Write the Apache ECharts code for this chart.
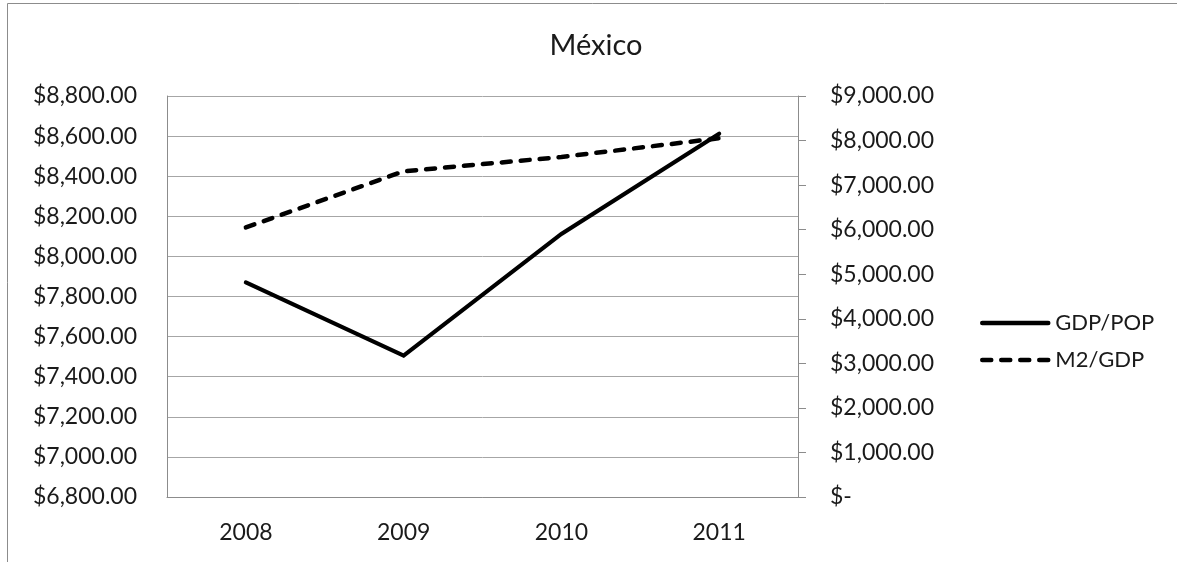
<!DOCTYPE html>
<html>
<head>
<meta charset="utf-8">
<script src="https://cdn.jsdelivr.net/npm/echarts@6/dist/echarts.min.js"></script>
<style>
  html, body { margin: 0; padding: 0; background: #fff; }
  #chart { width: 1177px; height: 562px; }
</style>
</head>
<body>
<div id="chart"></div>
<script>
// Years on the category axis
const years = ['2008', '2009', '2010', '2011'];
// GDP per capita (left axis, USD)
const gdpPerPop = [7870, 7505, 8112, 8612];
// M2 relative to GDP (right axis, USD)
const m2PerGdp = [6050, 7310, 7631, 8051];
// Axis ranges
const leftAxisRange = { min: 6800, max: 8800, step: 200 };
const rightAxisRange = { min: 0, max: 9000, step: 1000 };

const FONT = 'Lato';
const TEXT = '#1a1a1a';
const GRID_GRAY = '#a6a6a6';
const AXIS_GRAY = '#8c8c8c';

function money(v) {
  if (v === 0) return '$-';
  return '$' + v.toLocaleString('en-US', { minimumFractionDigits: 2, maximumFractionDigits: 2 });
}

const chart = echarts.init(document.getElementById('chart'));
chart.setOption({
  backgroundColor: '#fff',
  animation: false,
  textStyle: { fontFamily: FONT, color: TEXT },
  title: {
    text: 'México',
    left: 591,
    textAlign: 'center',
    top: 26,
    textStyle: { fontFamily: FONT, fontSize: 29, fontWeight: 'normal', color: TEXT }
  },
  graphic: [
    { type: 'line', shape: { x1: 7.5, y1: 3.5, x2: 1177, y2: 3.5 }, style: { stroke: AXIS_GRAY, lineWidth: 1 } },
    { type: 'line', shape: { x1: 7.5, y1: 3.5, x2: 7.5, y2: 562 }, style: { stroke: AXIS_GRAY, lineWidth: 1 } }
  ],
  legend: {
    orient: 'vertical',
    left: 975,
    top: 307,
    itemWidth: 66,
    itemHeight: 14,
    itemGap: 15,
    itemStyle: { opacity: 0 },
    lineStyle: { width: 4.5, cap: 'round' },
    textStyle: { fontFamily: FONT, fontSize: 22, color: TEXT, padding: [0, 0, 0, 2] },
    data: ['GDP/POP', 'M2/GDP']
  },
  grid: { left: 167, right: 379, top: 96, bottom: 65 },
  xAxis: {
    type: 'category',
    data: years,
    boundaryGap: true,
    axisLine: { lineStyle: { color: AXIS_GRAY, width: 1 } },
    axisTick: { show: false },
    axisLabel: { fontFamily: FONT, fontSize: 23, color: TEXT, margin: 24 }
  },
  yAxis: [
    {
      type: 'value',
      position: 'left',
      min: leftAxisRange.min,
      max: leftAxisRange.max,
      interval: leftAxisRange.step,
      axisLine: { show: true, lineStyle: { color: AXIS_GRAY, width: 1 } },
      axisTick: { show: false },
      splitLine: { show: true, lineStyle: { color: GRID_GRAY, width: 1 } },
      axisLabel: { fontFamily: FONT, fontSize: 23, color: TEXT, margin: 30, formatter: money }
    },
    {
      type: 'value',
      position: 'right',
      min: rightAxisRange.min,
      max: rightAxisRange.max,
      interval: rightAxisRange.step,
      axisLine: { show: true, lineStyle: { color: AXIS_GRAY, width: 1 } },
      axisTick: { show: true, inside: false, length: 8, lineStyle: { color: AXIS_GRAY, width: 1 } },
      splitLine: { show: false },
      axisLabel: { fontFamily: FONT, fontSize: 23, color: TEXT, margin: 32, align: 'left', formatter: money }
    }
  ],
  series: [
    {
      name: 'GDP/POP',
      type: 'line',
      yAxisIndex: 0,
      data: gdpPerPop,
      symbol: 'none',
      lineStyle: { color: '#000', width: 4.2, cap: 'round', join: 'miter' },
      itemStyle: { color: '#000' }
    },
    {
      name: 'M2/GDP',
      type: 'line',
      yAxisIndex: 1,
      data: m2PerGdp,
      symbol: 'none',
      lineStyle: { color: '#000', width: 4.5, type: [9, 10], cap: 'round', join: 'round' },
      itemStyle: { color: '#000' }
    }
  ]
});
</script>
</body>
</html>
